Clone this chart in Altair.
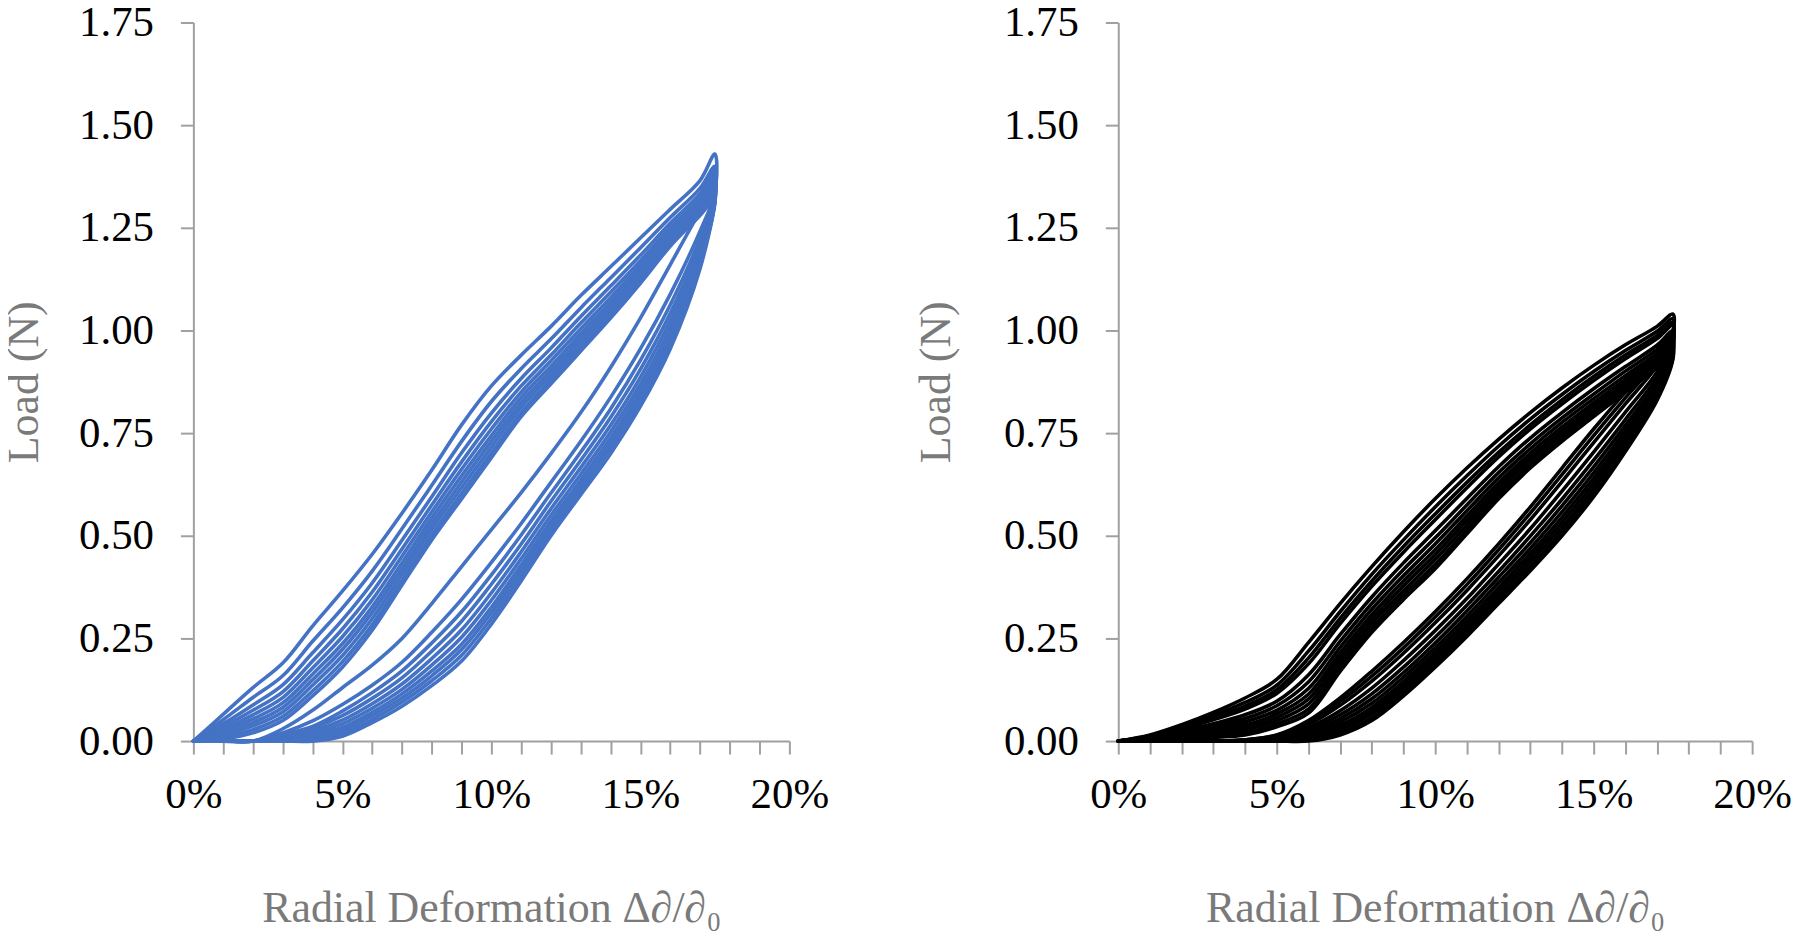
import altair as alt
import pandas as pd

# strain (%) sampling of the loading branches and of the unloading branches
LOAD_X = [0, 1, 2, 3, 4, 5, 6, 7, 8, 9, 10, 11, 12, 13, 14, 15, 16, 17, 17.5]
UNLOAD_X = [17.5, 17, 16, 15, 14, 13, 12, 11, 10, 9, 8, 7, 6, 5, 4, 3, 2, 1, 0]

# ---- left panel (blue): load in N along LOAD_X, one row per cycle
LEFT_LOADING = [
    [0, .065, .13, .19, .28, .365, .455, .555, .66, .77, .865, .94, 1.01, 1.085, 1.155, 1.225, 1.295, 1.365, 1.43],
    [0, .052, .106, .159, .243, .324, .414, .517, .623, .73, .827, .907, .979, 1.055, 1.128, 1.201, 1.275, 1.346, 1.40],
    [0, .042, .088, .137, .215, .295, .385, .489, .595, .702, .799, .883, .957, 1.034, 1.108, 1.183, 1.261, 1.333, 1.39],
    [0, .035, .075, .12, .195, .273, .363, .468, .575, .68, .778, .865, .94, 1.018, 1.093, 1.17, 1.25, 1.323, 1.38],
    [0, .029, .064, .106, .178, .254, .344, .45, .558, .662, .76, .85, .926, 1.004, 1.08, 1.159, 1.241, 1.314, 1.37],
    [0, .024, .054, .093, .163, .237, .327, .434, .543, .646, .744, .837, .913, .992, 1.069, 1.149, 1.233, 1.306, 1.36],
    [0, .019, .045, .082, .149, .223, .313, .42, .529, .631, .73, .825, .902, .981, 1.059, 1.14, 1.226, 1.30, 1.355],
    [0, .014, .037, .071, .136, .208, .298, .406, .516, .617, .716, .813, .891, .97, 1.049, 1.132, 1.219, 1.293, 1.345],
    [0, .009, .028, .06, .122, .193, .283, .392, .502, .603, .702, .80, .88, .959, 1.039, 1.123, 1.211, 1.286, 1.335],
    [0, .005, .02, .05, .11, .18, .27, .38, .49, .59, .69, .79, .87, .95, 1.03, 1.115, 1.205, 1.28, 1.32],
]
# load in N along UNLOAD_X
LEFT_UNLOADING = [
    [1.35, 1.29, 1.16, 1.03, .91, .80, .70, .605, .515, .425, .335, .25, .185, .13, .075, .03, 0, 0, 0],
    [1.336, 1.241, 1.088, .955, .837, .73, .63, .53, .435, .345, .265, .192, .136, .089, .049, .02, 0, 0, 0],
    [1.331, 1.223, 1.062, .927, .809, .704, .604, .502, .405, .315, .239, .171, .118, .073, .036, .016, 0, 0, 0],
    [1.327, 1.209, 1.041, .905, .788, .684, .584, .48, .382, .292, .219, .154, .104, .062, .032, .013, 0, 0, 0],
    [1.323, 1.196, 1.023, .886, .769, .666, .566, .461, .361, .271, .201, .139, .091, .051, .025, .01, 0, 0, 0],
    [1.32, 1.185, 1.006, .869, .753, .65, .55, .444, .343, .253, .185, .126, .08, .042, .019, .008, 0, 0, 0],
    [1.317, 1.175, .992, .854, .738, .636, .536, .429, .326, .236, .171, .115, .07, .033, .014, .005, 0, 0, 0],
    [1.315, 1.167, .98, .841, .725, .624, .524, .416, .313, .223, .159, .105, .062, .026, .009, .004, 0, 0, 0],
    [1.312, 1.158, .967, .828, .713, .612, .512, .403, .299, .209, .147, .095, .053, .019, .005, .002, 0, 0, 0],
    [1.31, 1.15, .955, .815, .70, .60, .50, .39, .285, .195, .135, .085, .045, .012, 0, 0, 0, 0, 0],
]

# ---- right panel (black)
RIGHT_LOADING = [
    [0, .015, .04, .07, .105, .15, .24, .335, .425, .51, .59, .665, .735, .80, .86, .915, .965, 1.01, 1.04],
    [0, .013, .036, .063, .094, .136, .219, .315, .406, .49, .57, .646, .718, .784, .844, .90, .951, .998, 1.029],
    [0, .012, .032, .057, .085, .125, .202, .299, .39, .474, .553, .63, .703, .77, .831, .888, .94, .988, 1.02],
    [0, .011, .03, .052, .078, .116, .188, .286, .377, .46, .539, .617, .692, .76, .821, .878, .931, .98, 1.013],
    [0, .009, .024, .042, .064, .097, .161, .259, .351, .434, .512, .591, .668, .738, .80, .858, .912, .964, .999],
    [0, .008, .02, .036, .055, .086, .144, .243, .335, .418, .495, .575, .654, .724, .787, .845, .901, .954, .99],
    [0, .007, .017, .03, .047, .075, .128, .228, .321, .403, .48, .561, .641, .712, .776, .834, .89, .945, .982],
    [0, .006, .014, .025, .039, .066, .114, .215, .308, .39, .466, .548, .629, .701, .765, .824, .881, .937, .974],
    [0, .005, .012, .021, .033, .058, .102, .203, .297, .378, .454, .537, .619, .692, .756, .815, .873, .93, .968],
    [0, .004, .01, .017, .027, .05, .09, .191, .286, .366, .442, .526, .609, .683, .747, .806, .865, .923, .962],
    [0, .003, .007, .013, .02, .042, .078, .18, .275, .355, .43, .515, .599, .673, .738, .798, .857, .916, .955],
    [0, .002, .005, .009, .015, .035, .068, .17, .265, .345, .42, .505, .59, .665, .73, .79, .85, .91, .95],
]
RIGHT_UNLOADING = [
    [1.0, .935, .85, .76, .665, .57, .48, .395, .315, .24, .17, .105, .05, .015, .003, 0, 0, 0, 0],
    [.993, .925, .836, .744, .649, .555, .466, .381, .302, .227, .158, .096, .045, .014, .003, 0, 0, 0, 0],
    [.986, .914, .821, .727, .632, .539, .451, .367, .288, .214, .146, .087, .04, .012, .002, 0, 0, 0, 0],
    [.976, .899, .801, .704, .609, .517, .431, .347, .269, .196, .129, .074, .033, .01, .002, 0, 0, 0, 0],
    [.968, .887, .783, .684, .589, .499, .413, .331, .253, .18, .115, .064, .027, .008, .002, 0, 0, 0, 0],
    [.961, .876, .769, .668, .573, .483, .399, .317, .239, .167, .103, .055, .022, .007, .001, 0, 0, 0, 0],
    [.955, .867, .756, .653, .558, .469, .386, .304, .227, .156, .092, .047, .018, .005, .001, 0, 0, 0, 0],
    [.949, .858, .744, .64, .545, .457, .374, .293, .216, .145, .082, .039, .014, .004, .001, 0, 0, 0, 0],
    [.944, .851, .734, .628, .533, .446, .364, .283, .207, .136, .074, .033, .01, .003, .001, 0, 0, 0, 0],
    [.939, .844, .724, .616, .521, .435, .354, .273, .198, .127, .066, .027, .007, .002, 0, 0, 0, 0, 0],
    [.934, .836, .714, .605, .51, .424, .344, .263, .188, .118, .057, .02, .003, .001, 0, 0, 0, 0, 0],
    [.93, .83, .705, .595, .50, .415, .335, .255, .18, .11, .05, .015, 0, 0, 0, 0, 0, 0, 0],
]

X_TICKS = list(range(0, 21))
Y_TICKS = [0, 0.25, 0.5, 0.75, 1.0, 1.25, 1.5, 1.75]
X_TITLE = "Radial Deformation Δ∂/∂₀"
Y_TITLE = "Load (N)"


def frame(loading, unloading):
    rows = []
    for c, (lo, un) in enumerate(zip(loading, unloading)):
        i = 0
        for x, y in zip(LOAD_X, lo):
            rows.append({"cycle": c, "i": i, "x": x, "y": y})
            i += 1
        for x, y in zip(UNLOAD_X, un):
            rows.append({"cycle": c, "i": i, "x": x, "y": y})
            i += 1
    return pd.DataFrame(rows)


FONT = "Liberation Serif"
AX = dict(
    domainColor="#a0a0a0", domainWidth=2, tickColor="#a0a0a0", tickWidth=2, tickSize=13,
    labelFont=FONT, labelFontSize=43, labelColor="#000000", labelFlush=False, labelOverlap=False,
    titleFont=FONT, titleFontSize=44, titleColor="#7a7a7a", titleFontWeight="normal", grid=False,
)


def panel(df, color, width, ytitle_pad):
    return alt.Chart(df).mark_line(
        color=color, strokeWidth=3.6, interpolate="catmull-rom", strokeJoin="round", strokeCap="round"
    ).encode(
        x=alt.X("x:Q", scale=alt.Scale(domain=[0, 20], nice=False, zero=True),
                axis=alt.Axis(values=X_TICKS, title=X_TITLE, labelPadding=20, titlePadding=70,
                              labelExpr="datum.value % 5 === 0 ? datum.value + '%' : ''", **AX)),
        y=alt.Y("y:Q", scale=alt.Scale(domain=[0, 1.75], nice=False),
                axis=alt.Axis(values=Y_TICKS, format=".2f", title=Y_TITLE, labelPadding=27,
                              titlePadding=ytitle_pad, **AX)),
        detail="cycle:N",
        order="i:Q",
    ).properties(width=width, height=721)


left = panel(frame(LEFT_LOADING, LEFT_UNLOADING), "#4472C4", 598, 32)
right = panel(frame(RIGHT_LOADING, RIGHT_UNLOADING), "#000000", 636, 45)

chart = alt.hconcat(left, right, spacing=85).properties(
    padding={"left": -6, "top": -8, "right": 0, "bottom": 0}
).configure_view(stroke=None)

chart.save("out.html", embed_options={"renderer": "svg", "actions": False})
